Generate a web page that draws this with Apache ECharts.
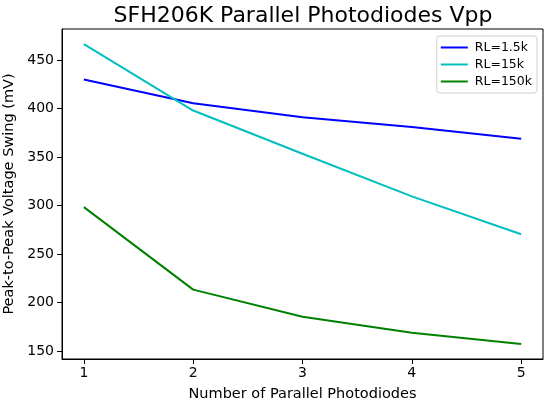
<!DOCTYPE html>
<html>
<head>
<meta charset="utf-8">
<script src="https://cdn.jsdelivr.net/npm/echarts@6/dist/echarts.min.js"></script>
<style>html,body{margin:0;padding:0;background:#fff;}#c{width:550px;height:405px;}</style>
</head>
<body>
<div id="c"></div>
<script>
var xValues = [1, 2, 3, 4, 5];
var seriesNames = ['RL=1.5k', 'RL=15k', 'RL=150k'];
var rl1_5k = [430, 405.5, 391, 381, 369];
var rl15k = [466.5, 398, 353.5, 309.5, 270.5];
var rl150k = [298.5, 213.5, 185.5, 169, 157.5];
var yTicks = [150, 200, 250, 300, 350, 400, 450];
var xTicks = [1, 2, 3, 4, 5];

function pairs(vals) { return xValues.map(function (x, i) { return [x, vals[i]]; }); }

var font = 'DejaVu Sans';
var chart = echarts.init(document.getElementById('c'));
var colors = ['#0000ff', '#00bfbf', '#008000'];
var allData = [rl1_5k, rl15k, rl150k];
chart.setOption({
  animation: false,
  backgroundColor: '#fff',
  title: {
    text: 'SFH206K Parallel Photodiodes Vpp',
    left: 298, top: 0, textAlign: 'center',
    textStyle: { fontFamily: font, fontSize: 22, fontWeight: 'normal', color: '#000' }
  },
  grid: { left: 62, right: 7, top: 29, bottom: 46, containLabel: false, outerBoundsMode: 'none',
    show: true, borderColor: '#000', borderWidth: 1, backgroundColor: 'transparent' },
  legend: {
    orient: 'vertical', right: 13, top: 36,
    data: seriesNames,
    icon: 'rect', itemWidth: 27, itemHeight: 2, itemGap: 4,
    backgroundColor: '#fff', borderColor: '#d0d0d0', borderWidth: 1, borderRadius: 3,
    padding: [5, 5, 5, 4],
    textStyle: { fontFamily: font, fontSize: 12.5, color: '#000', padding: [0, 0, 0, 2] }
  },
  xAxis: {
    type: 'value', min: 0.8, max: 5.2,
    name: 'Number of Parallel Photodiodes', nameLocation: 'middle', nameGap: 28,
    nameTextStyle: { fontFamily: font, fontSize: 14.5, color: '#000' },
    axisLine: { show: true, lineStyle: { color: '#000', width: 1 } },
    axisTick: { show: true, inside: false, length: 5, customValues: xTicks, lineStyle: { color: '#000' } },
    axisLabel: { customValues: xTicks, fontFamily: font, fontSize: 14, color: '#000', margin: 7 },
    splitLine: { show: false }
  },
  yAxis: {
    type: 'value', min: 142, max: 482,
    name: 'Peak-to-Peak Voltage Swing (mV)', nameLocation: 'middle', nameGap: 38,
    nameTextStyle: { fontFamily: font, fontSize: 14.5, color: '#000' },
    axisLine: { show: true, lineStyle: { color: '#000', width: 1 } },
    axisTick: { show: true, inside: false, length: 5, customValues: yTicks, lineStyle: { color: '#000' } },
    axisLabel: { customValues: yTicks, fontFamily: font, fontSize: 14, color: '#000', margin: 8 },
    splitLine: { show: false }
  },
  series: seriesNames.map(function (n, i) {
    return {
      name: n, type: 'line', data: pairs(allData[i]),
      showSymbol: false, symbol: 'none',
      lineStyle: { color: colors[i], width: 2 },
      itemStyle: { color: colors[i] }
    };
  })
});
</script>
</body>
</html>
